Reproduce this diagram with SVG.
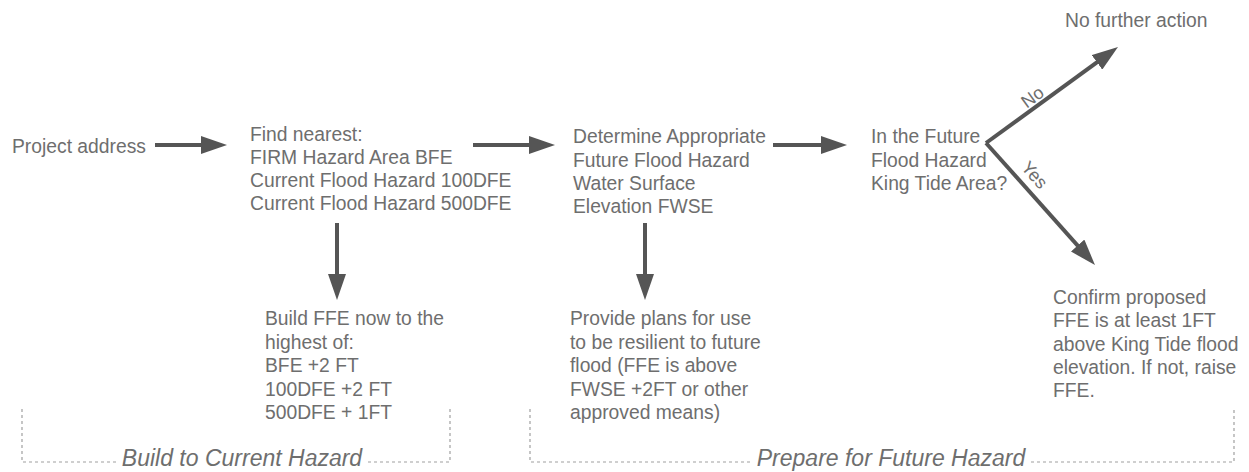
<svg xmlns="http://www.w3.org/2000/svg" width="1249" height="472" viewBox="0 0 1249 472">
  <defs>
    <marker id="ah" markerUnits="userSpaceOnUse" markerWidth="26" markerHeight="18" refX="16" refY="9" orient="auto">
      <path d="M0,0 L26,9 L0,18 Z" fill="#555555"/>
    </marker>
    <style>
      .t { font-family: "Liberation Sans", Arial, sans-serif; font-size: 19.3px; fill: #6e6e6e; }
      .lbl { font-family: "Liberation Sans", Arial, sans-serif; font-size: 18px; fill: #6e6e6e; }
      .grp { font-family: "Liberation Sans", Arial, sans-serif; font-size: 23px; font-style: italic; fill: #6e6e6e; }
      .c { stroke: #555555; stroke-width: 4; fill: none; marker-end: url(#ah); }
      .d { stroke: #a0a0a0; stroke-width: 1.2; fill: none; stroke-dasharray: 3 3; }
    </style>
  </defs>
  <rect width="1249" height="472" fill="#ffffff"/>

  <g id="connectors">
    <line class="c" x1="155" y1="145" x2="217" y2="145"/>
    <line class="c" x1="473" y1="145" x2="545" y2="145"/>
    <line class="c" x1="773" y1="145" x2="837" y2="145"/>
    <line class="c" x1="337" y1="223" x2="337" y2="290"/>
    <line class="c" x1="645" y1="223" x2="645" y2="290"/>
    <line class="c" x1="986" y1="143" x2="1109.9" y2="52.9"/>
    <path class="c" d="M986,143 L1088.3,257.5"/>
    <text class="lbl" transform="translate(1036,102) rotate(-36)" text-anchor="middle">No</text>
    <text class="lbl" transform="translate(1030,179) rotate(48)" text-anchor="middle">Yes</text>
  </g>

  <g id="n-project">
    <text class="t" x="12" y="153">Project address</text>
  </g>
  <g id="n-find">
    <text class="t" x="250" y="141">Find nearest:</text>
    <text class="t" x="250" y="164">FIRM Hazard Area BFE</text>
    <text class="t" x="250" y="187">Current Flood Hazard 100DFE</text>
    <text class="t" x="250" y="210">Current Flood Hazard 500DFE</text>
  </g>
  <g id="n-determine">
    <text class="t" x="573" y="143">Determine Appropriate</text>
    <text class="t" x="573" y="167">Future Flood Hazard</text>
    <text class="t" x="573" y="190">Water Surface</text>
    <text class="t" x="573" y="213">Elevation FWSE</text>
  </g>
  <g id="n-kingtide">
    <text class="t" x="871" y="143">In the Future</text>
    <text class="t" x="871" y="167">Flood Hazard</text>
    <text class="t" x="871" y="190">King Tide Area?</text>
  </g>
  <g id="n-nofurther">
    <text class="t" x="1065" y="27">No further action</text>
  </g>
  <g id="n-build">
    <text class="t" x="265" y="325">Build FFE now to the</text>
    <text class="t" x="265" y="349">highest of:</text>
    <text class="t" x="265" y="372">BFE +2 FT</text>
    <text class="t" x="265" y="396">100DFE +2 FT</text>
    <text class="t" x="265" y="419">500DFE + 1FT</text>
  </g>
  <g id="n-provide">
    <text class="t" x="570" y="325">Provide plans for use</text>
    <text class="t" x="570" y="349">to be resilient to future</text>
    <text class="t" x="570" y="372">flood (FFE is above</text>
    <text class="t" x="570" y="396">FWSE +2FT or other</text>
    <text class="t" x="570" y="419">approved means)</text>
  </g>
  <g id="n-confirm">
    <text class="t" x="1053" y="304">Confirm proposed</text>
    <text class="t" x="1053" y="327">FFE is at least 1FT</text>
    <text class="t" x="1053" y="351">above King Tide flood</text>
    <text class="t" x="1053" y="374">elevation. If not, raise</text>
    <text class="t" x="1053" y="397">FFE.</text>
  </g>

  <g id="g-current">
    <path class="d" d="M22,409 V462 H116 M368,462 H450 V409"/>
    <text class="grp" x="242" y="466" text-anchor="middle">Build to Current Hazard</text>
  </g>
  <g id="g-future">
    <path class="d" d="M530,409 V462 H751 M1031,462 H1234 V407"/>
    <text class="grp" x="891" y="466" text-anchor="middle">Prepare for Future Hazard</text>
  </g>
</svg>
